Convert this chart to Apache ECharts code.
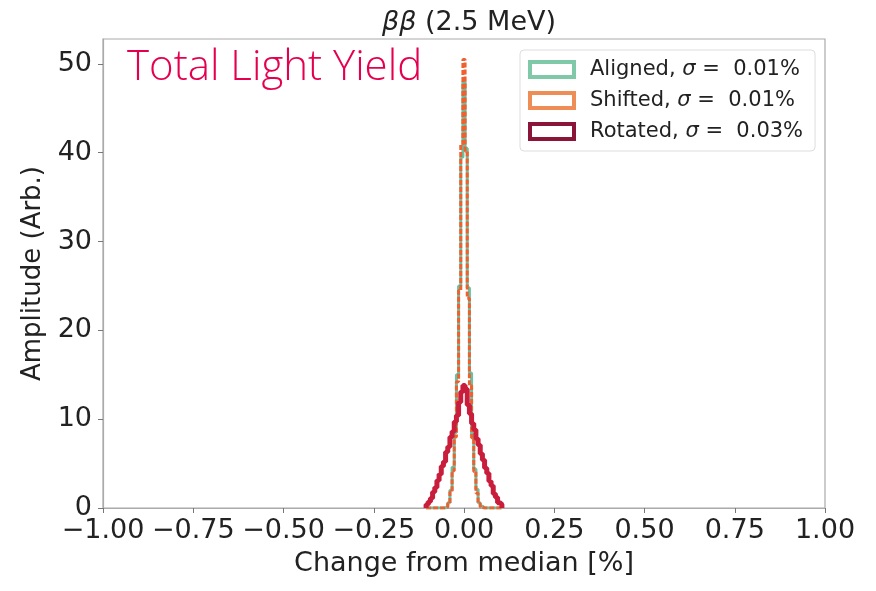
<!DOCTYPE html>
<html>
<head>
<meta charset="utf-8">
<script src="https://cdn.jsdelivr.net/npm/echarts@6/dist/echarts.min.js"></script>
<style>
  html, body { margin: 0; padding: 0; background: #fff; }
  #chart { width: 876px; height: 591px; }
</style>
</head>
<body>
<div id="chart"></div>
<script>
// histogram bins: 35 bins of width 0.006, first edge at -0.105
var binStart = -0.105;
var binWidth = 0.006;

var seriesNames = ['Aligned', 'Shifted', 'Rotated'];
var sigmaLabels = ['0.01%', '0.01%', '0.03%'];

var alignedCounts = [0,0,0,0,0,0,0,0,0,0.2,0.6,2.0,4.6,8.5,15.0,25.0,39.5,48.0,40.5,24.8,15.2,8.3,4.4,2.1,0.6,0.2,0,0,0,0,0,0,0,0,0];
var shiftedCounts = [0,0,0,0,0,0,0,0,0,0.1,0.5,1.8,4.2,8.0,14.2,24.5,41.0,50.5,40.2,23.6,13.8,7.9,4.1,1.7,0.5,0.1,0,0,0,0,0,0,0,0,0];
var rotatedCounts = [0.4,0.7,1.1,1.8,2.3,3.1,3.8,4.7,5.2,6.3,6.9,8.0,8.6,9.7,10.4,11.9,13.1,13.8,13.4,11.6,10.6,9.5,8.8,7.8,7.1,6.1,5.4,4.5,3.9,3.0,2.5,1.6,1.2,0.6,0.4];

var yTicks = [0, 10, 20, 30, 40, 50];

// turn counts into an outline of steps (like histtype='step')
function stepPoints(counts) {
  var pts = [[binStart, 0]];
  for (var i = 0; i < counts.length; i++) {
    pts.push([binStart + i * binWidth, counts[i]]);
  }
  var last = binStart + counts.length * binWidth;
  pts.push([last, counts[counts.length - 1]]);
  pts.push([last, 0]);
  return pts;
}

var myChart = echarts.init(document.getElementById('chart'));
var font = 'DejaVu Sans';

var option = {
  backgroundColor: '#fff',
  animation: false,
  title: {
    text: '{i|ββ} (2.5 MeV)',
    left: 464,
    textAlign: 'center',
    top: 4,
    textStyle: {
      fontFamily: font, fontSize: 27, fontWeight: 'normal', color: '#222',
      rich: { i: { fontFamily: font, fontSize: 27, fontStyle: 'italic', color: '#222' } }
    }
  },
  grid: {
    left: 103, right: 51, top: 39, bottom: 83,
    show: true, borderColor: '#aaa', borderWidth: 1.2
  },
  legend: {
    orient: 'vertical',
    left: 520, top: 50,
    padding: [9, 12, 9, 8],
    backgroundColor: '#fff',
    borderColor: '#ddd', borderWidth: 1, borderRadius: 4,
    itemWidth: 44, itemHeight: 15, itemGap: 10,
    icon: 'rect',
    data: [
      { name: 'Aligned', itemStyle: { color: '#fff', borderColor: '#7fc9a8', borderWidth: 4 } },
      { name: 'Shifted', itemStyle: { color: '#fff', borderColor: '#ee8d55', borderWidth: 4 } },
      { name: 'Rotated', itemStyle: { color: '#fff', borderColor: '#8a1538', borderWidth: 4 } }
    ],
    formatter: function (name) {
      var k = seriesNames.indexOf(name);
      return '{g|}{n|' + name + ', }{s|σ}{n| =  ' + sigmaLabels[k] + '}';
    },
    textStyle: {
      fontFamily: font, fontSize: 21, color: '#222',
      rich: {
        g: { width: 11 },
        n: { fontFamily: font, fontSize: 21, color: '#222' },
        s: { fontFamily: font, fontSize: 21, fontStyle: 'italic', color: '#222' }
      }
    }
  },
  xAxis: {
    type: 'value',
    min: -1, max: 1, interval: 0.25,
    name: 'Change from median [%]',
    nameLocation: 'middle',
    nameGap: 42,
    nameTextStyle: { fontFamily: font, fontSize: 27, color: '#222' },
    axisLine: { show: true, onZero: false, lineStyle: { color: '#aaa', width: 1.2 } },
    axisTick: { show: true, length: 5, lineStyle: { color: '#777' } },
    splitLine: { show: false },
    axisLabel: {
      fontFamily: font, fontSize: 27, color: '#222', margin: 9,
      formatter: function (v) {
        return (v < 0 ? '\u2212' : '') + Math.abs(v).toFixed(2);
      }
    }
  },
  yAxis: {
    type: 'value',
    min: 0, max: 52.8, interval: 10,
    name: 'Amplitude (Arb.)',
    nameLocation: 'middle',
    nameGap: 50,
    nameTextStyle: { fontFamily: font, fontSize: 26, color: '#222' },
    axisLine: { show: true, onZero: false, lineStyle: { color: '#aaa', width: 1.2 } },
    axisTick: { show: true, length: 5, lineStyle: { color: '#777' } },
    splitLine: { show: false },
    axisLabel: {
      fontFamily: font, fontSize: 27, color: '#222', margin: 11,
      showMaxLabel: false,
      formatter: function (v) { return yTicks.indexOf(v) >= 0 ? String(v) : ''; }
    }
  },
  graphic: [{
    type: 'text',
    left: 127, top: 47,
    style: {
      text: 'Total Light Yield',
      fontFamily: 'Open Sans', fontSize: 42, fontWeight: 300,
      fill: '#e5004f'
    }
  }],
  series: [
    {
      name: 'Aligned', type: 'line', step: 'end', showSymbol: false, symbol: 'none',
      data: stepPoints(alignedCounts),
      itemStyle: { color: '#66c2a5' },
      lineStyle: { color: '#66c2a5', width: 3 },
      z: 2
    },
    {
      name: 'Shifted', type: 'line', step: 'end', showSymbol: false, symbol: 'none',
      data: stepPoints(shiftedCounts),
      itemStyle: { color: '#f0602e' },
      lineStyle: { color: '#f0602e', width: 3, type: [5, 2] },
      z: 3
    },
    {
      name: 'Rotated', type: 'line', step: 'end', showSymbol: false, symbol: 'none',
      data: stepPoints(rotatedCounts),
      itemStyle: { color: '#c81e3c' },
      lineStyle: { color: '#c81e3c', width: 5 },
      z: 4
    }
  ]
};

myChart.setOption(option, true);
</script>
</body>
</html>
